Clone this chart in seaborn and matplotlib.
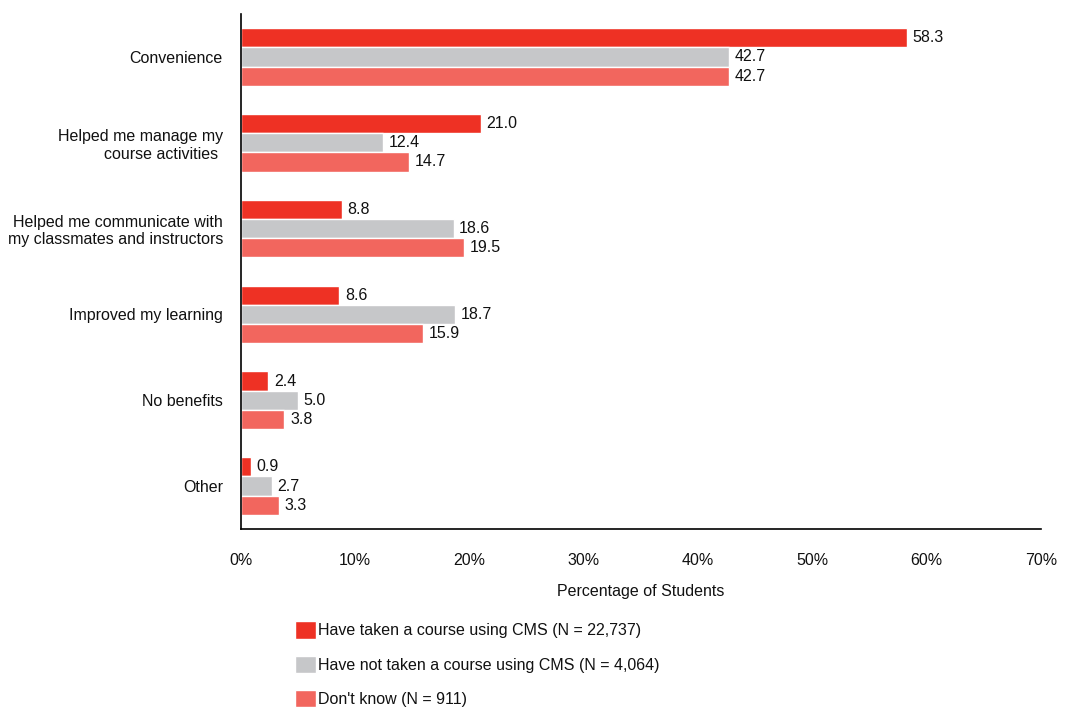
import pandas as pd
import numpy as np
import matplotlib
matplotlib.use("Agg")
import matplotlib.pyplot as plt
import seaborn as sns

# chart values
categories = ["Convenience",
              "Helped me manage my\ncourse activities ",
              "Helped me communicate with\nmy classmates and instructors",
              "Improved my learning",
              "No benefits",
              "Other"]
groups = ["Have taken a course using CMS (N = 22,737)",
          "Have not taken a course using CMS (N = 4,064)",
          "Don't know (N = 911)"]
taken = [58.3, 21.0, 8.8, 8.6, 2.4, 0.9]
not_taken = [42.7, 12.4, 18.6, 18.7, 5.0, 2.7]
dont_know = [42.7, 14.7, 19.5, 15.9, 3.8, 3.3]
colors = ["#EE3124", "#C6C7C9", "#F2665E"]

rows = []
for g, vals in zip(groups, [taken, not_taken, dont_know]):
    for c, v in zip(categories, vals):
        rows.append({"category": c, "group": g, "value": v})
df = pd.DataFrame(rows)

sns.set_style("white")
plt.rcParams['font.family'] = ['Liberation Sans', 'DejaVu Sans']
fs = 11.5

fig = plt.figure(figsize=(10.65, 7.1), dpi=100)
ax = fig.add_axes([241/1065, 1-529/710, 800/1065, 515/710])

sns.barplot(data=df, y="category", x="value", hue="group", order=categories,
            hue_order=groups, palette=colors, orient="h", width=0.67,
            saturation=1, ax=ax, legend=True)

for cont in ax.containers:
    ax.bar_label(cont, fmt="%.1f", padding=4, fontsize=fs, color="#111111")

ax.set_xlim(0, 70)
ax.set_ylim(5.5, -0.5)
ax.set_xticks(np.arange(0, 71, 10))
ax.set_xticklabels([f"{t}%" for t in range(0, 71, 10)], fontsize=fs)
ax.tick_params(axis="x", direction="in", length=7, pad=17, width=1, color="black",
               labelcolor="#111111")
ax.tick_params(axis="y", which="major", length=0, pad=13, labelsize=fs, labelcolor="#111111")
ax.set_yticks(np.arange(-0.5, 6, 1), minor=True)
ax.tick_params(axis="y", which="minor", direction="in", length=5, width=1, color="black")
ax.set_xlabel("Percentage of Students", fontsize=fs, labelpad=12, color="#111111")
ax.set_ylabel("")
for s in ["top", "right"]:
    ax.spines[s].set_visible(False)
for s in ["left", "bottom"]:
    ax.spines[s].set_color("black")
    ax.spines[s].set_linewidth(1.2)

handles, labels = ax.get_legend_handles_labels()
ax.get_legend().remove()
fig.legend(handles, labels, loc="upper left", bbox_to_anchor=(281/1065, 1-607/710),
           frameon=False, fontsize=fs, handlelength=1.3, handleheight=1.3,
           handletextpad=0.1, labelspacing=1.05, labelcolor="#111111")

fig.savefig("out.png", dpi=100)
